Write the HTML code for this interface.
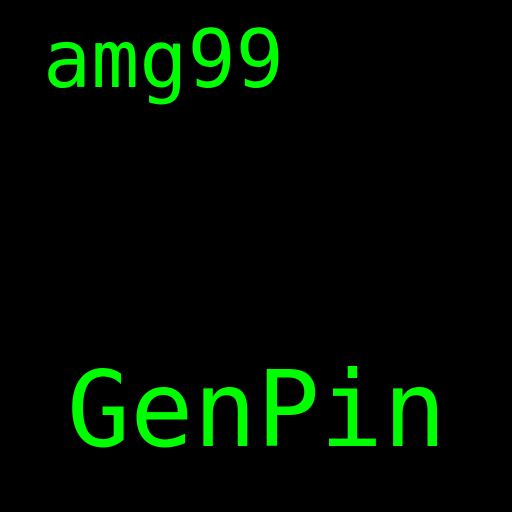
<!DOCTYPE html>
<html><head><style>
html,body{margin:0;padding:0;background:#000;width:512px;height:512px;overflow:hidden}
</style></head><body>
<svg width="512" height="512" xmlns="http://www.w3.org/2000/svg">
<rect width="512" height="512" fill="#000"/>
<text x="43" y="87" font-family="DejaVu Sans Mono, monospace" font-size="80" fill="#00ff00">amg99</text>
<text x="67" y="446" font-family="DejaVu Sans Mono, monospace" font-size="105" fill="#00ff00">GenPin</text>
</svg>
</body></html>
